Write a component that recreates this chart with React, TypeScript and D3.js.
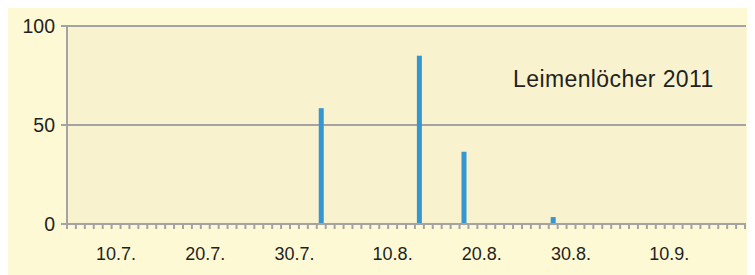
import * as React from "react";
import * as d3 from "d3";

// Leimenlöcher 2011, one bar per day
const firstDay = new Date(2011, 6, 5);
const lastDay = new Date(2011, 8, 18);
const barDays = ["2.8.", "13.8.", "18.8.", "28.8."];
const barValues = [58.5, 85, 36.5, 3.5];
const dayLabels = ["10.7.", "20.7.", "30.7.", "10.8.", "20.8.", "30.8.", "10.9."];
const yTicks = [0, 50, 100];
const title = "Leimenlöcher 2011";

const fmtDay = d3.timeFormat("%-d.%-m.");

const App: React.FC = () => {
  const width = 747;
  const height = 267;
  const left = 59;
  const right = 737;
  const top = 18;
  const bottom = 216;

  const days = d3.timeDay.range(firstDay, d3.timeDay.offset(lastDay, 1)).map(fmtDay);

  const x = d3.scaleBand().domain(days).range([left, right]).padding(0);
  const y = d3.scaleLinear().domain([0, 100]).range([bottom, top]);

  const grid = "#a3a3a3";
  const font = "'Liberation Sans', Arial, sans-serif";
  const barW = 5;

  return (
    <svg width={width} height={height} style={{ display: "block" }}>
      <rect x={0} y={0} width={width} height={height} fill="#fef9d5" />
      <rect x={left} y={top} width={right - left + 1} height={bottom - top} fill="#f8f2cf" />

      {yTicks.map((t) => (
        <g key={t}>
          <line x1={left - 6} x2={right + 1} y1={y(t)} y2={y(t)} stroke={grid} strokeWidth={2} />
          <text
            x={left - 12}
            y={y(t)}
            dy="0.36em"
            textAnchor="end"
            fontFamily={font}
            fontSize={19.5}
            fill="#231f20"
          >
            {t}
          </text>
        </g>
      ))}

      <line x1={left} x2={left} y1={top} y2={bottom + 5} stroke={grid} strokeWidth={2} />

      {days.map((d) => (
        <line
          key={"t" + d}
          x1={(x(d) as number) + x.bandwidth()}
          x2={(x(d) as number) + x.bandwidth()}
          y1={bottom}
          y2={bottom + 5}
          stroke={grid}
          strokeWidth={2}
        />
      ))}

      {barDays.map((d, i) => (
        <rect
          key={"b" + d}
          x={(x(d) as number) + x.bandwidth() / 2 - barW / 2}
          y={y(barValues[i])}
          width={barW}
          height={y(0) - y(barValues[i]) - 1}
          fill="#3597d2"
        />
      ))}

      {dayLabels.map((d) => (
        <text
          key={"l" + d}
          x={(x(d) as number) + x.bandwidth() / 2}
          y={251.5}
          textAnchor="middle"
          fontFamily={font}
          fontSize={18}
          fill="#231f20"
        >
          {d}
        </text>
      ))}

      <text x={505} y={78.5} fontFamily={font} fontSize={23} letterSpacing={0.4} fill="#231f20">
        {title}
      </text>
    </svg>
  );
};

export default App;
